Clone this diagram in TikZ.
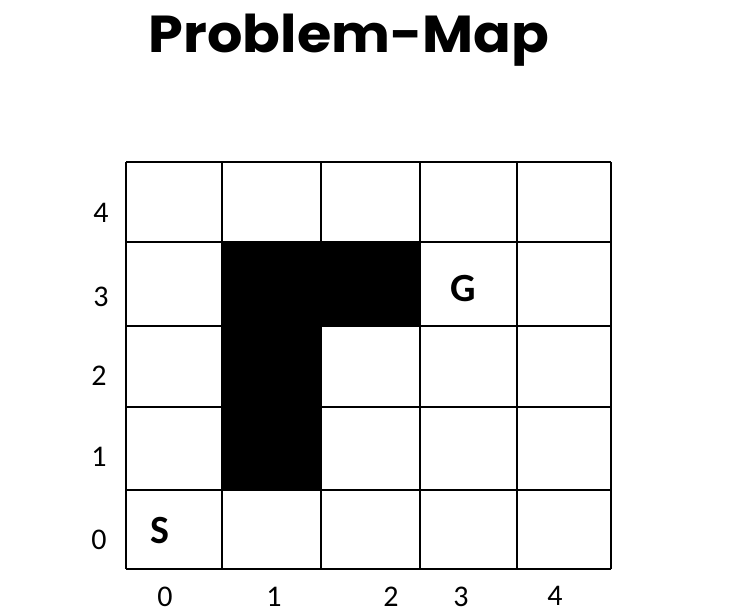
\documentclass[tikz,border=0pt]{standalone}
\usepackage{fontspec}
\setmainfont{Carlito}
\newfontfamily\titlefont{Poppins}
\usepackage{tikz}
\usetikzlibrary{positioning}
\tikzset{
  gridline/.style={line width=1.6pt, black},
  axislab/.style={font=\fontsize{30}{30}\selectfont, inner sep=0pt},
  cellmark/.style={font=\fontsize{40}{40}\selectfont\bfseries, inner sep=0pt},
  heading/.style={font=\titlefont\bfseries\fontsize{52}{52}\selectfont, inner sep=0pt, xscale=1.07},
}
\begin{document}
\begin{tikzpicture}[x=1pt, y=-1pt]
  \useasboundingbox (0,0) rectangle (748,614);
  \node[heading, anchor=base] (title) at (349,52) {Problem-Map};

  % blocked cells
  \fill[black] (222,242) rectangle (420,326);
  \fill[black] (222,326) rectangle (321,490);

  % grid
  \foreach \x in {126,222,321,420,517,611}
    \draw[gridline] (\x,162) -- (\x,569);
  \foreach \y in {162,242,326,407,490,569}
    \draw[gridline] (126,\y) -- (611,\y);

  % row numbers
  \node[axislab] (r4) at (101,213) {4};
  \node[axislab] (r3) at (101,297) {3};
  \node[axislab] (r2) at (99,376) {2};
  \node[axislab] (r1) at (99,457) {1};
  \node[axislab] (r0) at (99,540) {0};

  % column numbers
  \node[axislab] (c0) at (165,597) {0};
  \node[axislab] (c1) at (274,597) {1};
  \node[axislab] (c2) at (391,597) {2};
  \node[axislab] (c3) at (461,597) {3};
  \node[axislab] (c4) at (555,596) {4};

  \node[cellmark] (start) at (160,531) {S};
  \node[cellmark] (goal) at (463,289) {G};
\end{tikzpicture}
\end{document}
